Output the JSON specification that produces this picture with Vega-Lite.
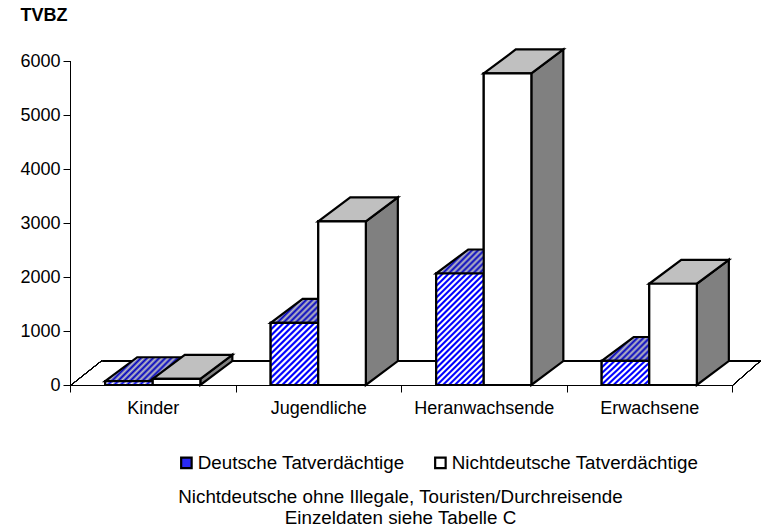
{"$schema":"https://vega.github.io/schema/vega-lite/v6.json","autosize":"none","padding":{"left":70,"top":40,"right":0,"bottom":147},"width":691,"height":345,"background":"white","config":{"font":"Liberation Sans","view":{"stroke":null},"axis":{"grid":false,"domain":false,"tickColor":"black","labelColor":"black","titleColor":"black","labelFont":"Liberation Sans","titleFont":"Liberation Sans","labelFontSize":18,"titleFontSize":18.8,"labelFontWeight":"normal"}},
"data":{"values":[
{"Altersgruppe":"Kinder","Gruppe":"Deutsche Tatverdächtige","TVBZ":70},
{"Altersgruppe":"Kinder","Gruppe":"Nichtdeutsche Tatverdächtige","TVBZ":115},
{"Altersgruppe":"Jugendliche","Gruppe":"Deutsche Tatverdächtige","TVBZ":1150},
{"Altersgruppe":"Jugendliche","Gruppe":"Nichtdeutsche Tatverdächtige","TVBZ":3030},
{"Altersgruppe":"Heranwachsende","Gruppe":"Deutsche Tatverdächtige","TVBZ":2065},
{"Altersgruppe":"Heranwachsende","Gruppe":"Nichtdeutsche Tatverdächtige","TVBZ":5770},
{"Altersgruppe":"Erwachsene","Gruppe":"Deutsche Tatverdächtige","TVBZ":445},
{"Altersgruppe":"Erwachsene","Gruppe":"Nichtdeutsche Tatverdächtige","TVBZ":1875}
]},
"transform":[
{"calculate":"indexof(['Kinder','Jugendliche','Heranwachsende','Erwachsene'],datum.Altersgruppe)","as":"idx"},
{"calculate":"datum.idx+0.5-(datum.Gruppe=='Deutsche Tatverdächtige'?0.2875:0)","as":"x0"},
{"calculate":"datum.x0+0.2875","as":"x1"}
],
"layer":[
{"mark":{"type":"rect","stroke":"black","strokeWidth":2.2},
"encoding":{
"x":{"field":"x0","type":"quantitative","scale":{"domain":[0,4.1752],"nice":false,"zero":false},
"axis":{"values":[0,0.5,1,1.5,2,2.5,3,3.5,4],"tickSize":7,"labelOverlap":false,"labelFlush":false,"labelPadding":7,"labelExpr":"datum.value==0.5?'Kinder':datum.value==1.5?'Jugendliche':datum.value==2.5?'Heranwachsende':datum.value==3.5?'Erwachsene':''","tickOpacity":{"condition":{"test":"datum.value % 1 != 0","value":0},"value":1},"title":["Nichtdeutsche ohne Illegale, Touristen/Durchreisende","Einzeldaten siehe Tabelle C"],"titleFontWeight":"normal","titleX":330,"titleY":117,"titleAlign":"center","titleBaseline":"alphabetic","titleLineHeight":21}},
"x2":{"field":"x1"},
"y":{"field":"TVBZ","type":"quantitative","scale":{"domain":[0,6389],"nice":false},
"axis":{"values":[0,1000,2000,3000,4000,5000,6000],"format":"d","tickSize":7,"labelPadding":3,"title":"TVBZ","titleAngle":0,"titleFontSize":18,"titleFontWeight":"bold","titleX":-50,"titleY":-20,"titleAlign":"left","titleBaseline":"alphabetic"}},
"y2":{"datum":0},
"fill":{"field":"Gruppe","type":"nominal","scale":{"range":["#2a2af5","#ffffff"]},
"legend":{"orient":"none","legendX":107,"legendY":413,"direction":"horizontal","columns":2,"title":null,"symbolType":"square","symbolSize":110,"symbolStrokeColor":"black","symbolStrokeWidth":2.2,"labelFont":"Liberation Sans","labelFontSize":18.8,"labelColor":"black","labelOffset":2,"columnPadding":25,"labelLimit":400}}
}},
{"mark":{"type":"rule","color":"black","strokeWidth":1,"xOffset":0.5,"yOffset":0.5},"encoding":{"x":{"datum":0,"type":"quantitative","scale":{"domain":[0,4.1752],"nice":false,"zero":false}},"x2":{"datum":4},"y":{"datum":0,"type":"quantitative","scale":{"domain":[0,6389],"nice":false}}}},
{"mark":{"type":"rule","color":"black","strokeWidth":1,"xOffset":0.5,"yOffset":0.5},"encoding":{"x":{"datum":0.1934,"type":"quantitative","scale":{"domain":[0,4.1752],"nice":false,"zero":false}},"x2":{"datum":4.1752},"y":{"datum":454,"type":"quantitative","scale":{"domain":[0,6389],"nice":false}}}},
{"mark":{"type":"rule","color":"black","strokeWidth":1,"xOffset":0.5,"yOffset":0.5},"encoding":{"x":{"datum":0,"type":"quantitative","scale":{"domain":[0,4.1752],"nice":false,"zero":false}},"y":{"datum":0,"type":"quantitative","scale":{"domain":[0,6389],"nice":false}},"y2":{"datum":6000}}},
{"mark":{"type":"rule","color":"black","strokeWidth":1,"xOffset":0.5,"yOffset":0.5},"encoding":{"x":{"datum":0,"type":"quantitative","scale":{"domain":[0,4.1752],"nice":false,"zero":false}},"x2":{"datum":0.1934},"y":{"datum":0,"type":"quantitative","scale":{"domain":[0,6389],"nice":false}},"y2":{"datum":454}}},
{"mark":{"type":"rule","color":"black","strokeWidth":1,"xOffset":0.5,"yOffset":0.5},"encoding":{"x":{"datum":4,"type":"quantitative","scale":{"domain":[0,4.1752],"nice":false,"zero":false}},"x2":{"datum":4.1752},"y":{"datum":0,"type":"quantitative","scale":{"domain":[0,6389],"nice":false}},"y2":{"datum":454}}},
{"transform":[{"filter":"datum.Gruppe=='Deutsche Tatverdächtige'"},
{"calculate":"[datum.x0,datum.x0+0.1934,datum.x1,datum.x1+0.1934]","as":"px"},
{"calculate":"[datum.TVBZ,datum.TVBZ+444,datum.TVBZ+444,datum.TVBZ+444]","as":"py"},
{"calculate":"[datum.TVBZ,datum.TVBZ,datum.TVBZ,datum.TVBZ+444]","as":"py2"},
{"flatten":["px","py","py2"]}],
"mark":{"type":"area","orient":"vertical","stroke":"black","strokeWidth":2.2,"strokeJoin":"miter","fill":{"gradient":"linear","x1":0,"y1":0,"x2":1.193,"y2":0.36,"stops":[{"offset":0,"color":"#0000c0"},{"offset":0.0294,"color":"#c0c0c0"},{"offset":0.0588,"color":"#0000c0"},{"offset":0.0882,"color":"#c0c0c0"},{"offset":0.1176,"color":"#0000c0"},{"offset":0.1471,"color":"#c0c0c0"},{"offset":0.1765,"color":"#0000c0"},{"offset":0.2059,"color":"#c0c0c0"},{"offset":0.2353,"color":"#0000c0"},{"offset":0.2647,"color":"#c0c0c0"},{"offset":0.2941,"color":"#0000c0"},{"offset":0.3235,"color":"#c0c0c0"},{"offset":0.3529,"color":"#0000c0"},{"offset":0.3824,"color":"#c0c0c0"},{"offset":0.4118,"color":"#0000c0"},{"offset":0.4412,"color":"#c0c0c0"},{"offset":0.4706,"color":"#0000c0"},{"offset":0.5,"color":"#c0c0c0"},{"offset":0.5294,"color":"#0000c0"},{"offset":0.5588,"color":"#c0c0c0"},{"offset":0.5882,"color":"#0000c0"},{"offset":0.6176,"color":"#c0c0c0"},{"offset":0.6471,"color":"#0000c0"},{"offset":0.6765,"color":"#c0c0c0"},{"offset":0.7059,"color":"#0000c0"},{"offset":0.7353,"color":"#c0c0c0"},{"offset":0.7647,"color":"#0000c0"},{"offset":0.7941,"color":"#c0c0c0"},{"offset":0.8235,"color":"#0000c0"},{"offset":0.8529,"color":"#c0c0c0"},{"offset":0.8824,"color":"#0000c0"},{"offset":0.9118,"color":"#c0c0c0"},{"offset":0.9412,"color":"#0000c0"},{"offset":0.9706,"color":"#c0c0c0"},{"offset":1,"color":"#0000c0"}]}},
"encoding":{"x":{"field":"px","type":"quantitative","scale":{"domain":[0,4.1752],"nice":false,"zero":false}},"y":{"field":"py","type":"quantitative","scale":{"domain":[0,6389],"nice":false},"stack":null},"y2":{"field":"py2"},"detail":{"field":"Altersgruppe"}}},
{"transform":[{"filter":"datum.Gruppe=='Deutsche Tatverdächtige' && datum.Altersgruppe=='Kinder'"}],
"mark":{"type":"rect","stroke":"black","strokeWidth":2.2,"fill":{"gradient":"linear","x1":0,"y1":0,"x2":1.073,"y2":0.086,"stops":[{"offset":0,"color":"#00f"},{"offset":0.0625,"color":"#fff"},{"offset":0.125,"color":"#00f"},{"offset":0.1875,"color":"#fff"},{"offset":0.25,"color":"#00f"},{"offset":0.3125,"color":"#fff"},{"offset":0.375,"color":"#00f"},{"offset":0.4375,"color":"#fff"},{"offset":0.5,"color":"#00f"},{"offset":0.5625,"color":"#fff"},{"offset":0.625,"color":"#00f"},{"offset":0.6875,"color":"#fff"},{"offset":0.75,"color":"#00f"},{"offset":0.8125,"color":"#fff"},{"offset":0.875,"color":"#00f"},{"offset":0.9375,"color":"#fff"},{"offset":1,"color":"#00f"}]}},
"encoding":{"x":{"field":"x0","type":"quantitative","scale":{"domain":[0,4.1752],"nice":false,"zero":false}},"x2":{"field":"x1"},"y":{"field":"TVBZ","type":"quantitative","scale":{"domain":[0,6389],"nice":false}},"y2":{"datum":0}}},
{"transform":[{"filter":"datum.Gruppe=='Deutsche Tatverdächtige' && datum.Altersgruppe=='Jugendliche'"}],
"mark":{"type":"rect","stroke":"black","strokeWidth":2.2,"fill":{"gradient":"linear","x1":0,"y1":0,"x2":0.845,"y2":1.117,"stops":[{"offset":0,"color":"#00f"},{"offset":0.0139,"color":"#00f"},{"offset":0.0278,"color":"#fff"},{"offset":0.0417,"color":"#fff"},{"offset":0.0556,"color":"#00f"},{"offset":0.0695,"color":"#00f"},{"offset":0.0834,"color":"#fff"},{"offset":0.0973,"color":"#fff"},{"offset":0.1111,"color":"#00f"},{"offset":0.125,"color":"#00f"},{"offset":0.1389,"color":"#fff"},{"offset":0.1528,"color":"#fff"},{"offset":0.1667,"color":"#00f"},{"offset":0.1806,"color":"#00f"},{"offset":0.1945,"color":"#fff"},{"offset":0.2084,"color":"#fff"},{"offset":0.2222,"color":"#00f"},{"offset":0.2361,"color":"#00f"},{"offset":0.25,"color":"#fff"},{"offset":0.2639,"color":"#fff"},{"offset":0.2778,"color":"#00f"},{"offset":0.2917,"color":"#00f"},{"offset":0.3056,"color":"#fff"},{"offset":0.3195,"color":"#fff"},{"offset":0.3333,"color":"#00f"},{"offset":0.3472,"color":"#00f"},{"offset":0.3611,"color":"#fff"},{"offset":0.375,"color":"#fff"},{"offset":0.3889,"color":"#00f"},{"offset":0.4028,"color":"#00f"},{"offset":0.4167,"color":"#fff"},{"offset":0.4306,"color":"#fff"},{"offset":0.4444,"color":"#00f"},{"offset":0.4583,"color":"#00f"},{"offset":0.4722,"color":"#fff"},{"offset":0.4861,"color":"#fff"},{"offset":0.5,"color":"#00f"},{"offset":0.5139,"color":"#00f"},{"offset":0.5278,"color":"#fff"},{"offset":0.5417,"color":"#fff"},{"offset":0.5556,"color":"#00f"},{"offset":0.5695,"color":"#00f"},{"offset":0.5834,"color":"#fff"},{"offset":0.5973,"color":"#fff"},{"offset":0.6111,"color":"#00f"},{"offset":0.625,"color":"#00f"},{"offset":0.6389,"color":"#fff"},{"offset":0.6528,"color":"#fff"},{"offset":0.6667,"color":"#00f"},{"offset":0.6806,"color":"#00f"},{"offset":0.6945,"color":"#fff"},{"offset":0.7084,"color":"#fff"},{"offset":0.7222,"color":"#00f"},{"offset":0.7361,"color":"#00f"},{"offset":0.75,"color":"#fff"},{"offset":0.7639,"color":"#fff"},{"offset":0.7778,"color":"#00f"},{"offset":0.7917,"color":"#00f"},{"offset":0.8056,"color":"#fff"},{"offset":0.8195,"color":"#fff"},{"offset":0.8333,"color":"#00f"},{"offset":0.8472,"color":"#00f"},{"offset":0.8611,"color":"#fff"},{"offset":0.875,"color":"#fff"},{"offset":0.8889,"color":"#00f"},{"offset":0.9028,"color":"#00f"},{"offset":0.9167,"color":"#fff"},{"offset":0.9306,"color":"#fff"},{"offset":0.9444,"color":"#00f"},{"offset":0.9583,"color":"#00f"},{"offset":0.9722,"color":"#fff"},{"offset":0.9861,"color":"#fff"},{"offset":1,"color":"#00f"}]}},
"encoding":{"x":{"field":"x0","type":"quantitative","scale":{"domain":[0,4.1752],"nice":false,"zero":false}},"x2":{"field":"x1"},"y":{"field":"TVBZ","type":"quantitative","scale":{"domain":[0,6389],"nice":false}},"y2":{"datum":0}}},
{"transform":[{"filter":"datum.Gruppe=='Deutsche Tatverdächtige' && datum.Altersgruppe=='Heranwachsende'"}],
"mark":{"type":"rect","stroke":"black","strokeWidth":2.2,"fill":{"gradient":"linear","x1":0,"y1":0,"x2":0.51,"y2":1.207,"stops":[{"offset":0,"color":"#00f"},{"offset":0.0093,"color":"#00f"},{"offset":0.0185,"color":"#fff"},{"offset":0.0278,"color":"#fff"},{"offset":0.037,"color":"#00f"},{"offset":0.0463,"color":"#00f"},{"offset":0.0555,"color":"#fff"},{"offset":0.0648,"color":"#fff"},{"offset":0.0741,"color":"#00f"},{"offset":0.0834,"color":"#00f"},{"offset":0.0926,"color":"#fff"},{"offset":0.1019,"color":"#fff"},{"offset":0.1111,"color":"#00f"},{"offset":0.1204,"color":"#00f"},{"offset":0.1296,"color":"#fff"},{"offset":0.1389,"color":"#fff"},{"offset":0.1481,"color":"#00f"},{"offset":0.1574,"color":"#00f"},{"offset":0.1666,"color":"#fff"},{"offset":0.1759,"color":"#fff"},{"offset":0.1852,"color":"#00f"},{"offset":0.1945,"color":"#00f"},{"offset":0.2037,"color":"#fff"},{"offset":0.213,"color":"#fff"},{"offset":0.2222,"color":"#00f"},{"offset":0.2315,"color":"#00f"},{"offset":0.2407,"color":"#fff"},{"offset":0.25,"color":"#fff"},{"offset":0.2593,"color":"#00f"},{"offset":0.2686,"color":"#00f"},{"offset":0.2778,"color":"#fff"},{"offset":0.2871,"color":"#fff"},{"offset":0.2963,"color":"#00f"},{"offset":0.3056,"color":"#00f"},{"offset":0.3148,"color":"#fff"},{"offset":0.3241,"color":"#fff"},{"offset":0.3333,"color":"#00f"},{"offset":0.3426,"color":"#00f"},{"offset":0.3518,"color":"#fff"},{"offset":0.3611,"color":"#fff"},{"offset":0.3704,"color":"#00f"},{"offset":0.3797,"color":"#00f"},{"offset":0.3889,"color":"#fff"},{"offset":0.3982,"color":"#fff"},{"offset":0.4074,"color":"#00f"},{"offset":0.4167,"color":"#00f"},{"offset":0.4259,"color":"#fff"},{"offset":0.4352,"color":"#fff"},{"offset":0.4444,"color":"#00f"},{"offset":0.4537,"color":"#00f"},{"offset":0.4629,"color":"#fff"},{"offset":0.4722,"color":"#fff"},{"offset":0.4815,"color":"#00f"},{"offset":0.4908,"color":"#00f"},{"offset":0.5,"color":"#fff"},{"offset":0.5093,"color":"#fff"},{"offset":0.5185,"color":"#00f"},{"offset":0.5278,"color":"#00f"},{"offset":0.537,"color":"#fff"},{"offset":0.5463,"color":"#fff"},{"offset":0.5556,"color":"#00f"},{"offset":0.5649,"color":"#00f"},{"offset":0.5741,"color":"#fff"},{"offset":0.5834,"color":"#fff"},{"offset":0.5926,"color":"#00f"},{"offset":0.6019,"color":"#00f"},{"offset":0.6111,"color":"#fff"},{"offset":0.6204,"color":"#fff"},{"offset":0.6296,"color":"#00f"},{"offset":0.6389,"color":"#00f"},{"offset":0.6481,"color":"#fff"},{"offset":0.6574,"color":"#fff"},{"offset":0.6667,"color":"#00f"},{"offset":0.676,"color":"#00f"},{"offset":0.6852,"color":"#fff"},{"offset":0.6945,"color":"#fff"},{"offset":0.7037,"color":"#00f"},{"offset":0.713,"color":"#00f"},{"offset":0.7222,"color":"#fff"},{"offset":0.7315,"color":"#fff"},{"offset":0.7407,"color":"#00f"},{"offset":0.75,"color":"#00f"},{"offset":0.7592,"color":"#fff"},{"offset":0.7685,"color":"#fff"},{"offset":0.7778,"color":"#00f"},{"offset":0.7871,"color":"#00f"},{"offset":0.7963,"color":"#fff"},{"offset":0.8056,"color":"#fff"},{"offset":0.8148,"color":"#00f"},{"offset":0.8241,"color":"#00f"},{"offset":0.8333,"color":"#fff"},{"offset":0.8426,"color":"#fff"},{"offset":0.8519,"color":"#00f"},{"offset":0.8612,"color":"#00f"},{"offset":0.8704,"color":"#fff"},{"offset":0.8797,"color":"#fff"},{"offset":0.8889,"color":"#00f"},{"offset":0.8982,"color":"#00f"},{"offset":0.9074,"color":"#fff"},{"offset":0.9167,"color":"#fff"},{"offset":0.9259,"color":"#00f"},{"offset":0.9352,"color":"#00f"},{"offset":0.9444,"color":"#fff"},{"offset":0.9537,"color":"#fff"},{"offset":0.963,"color":"#00f"},{"offset":0.9723,"color":"#00f"},{"offset":0.9815,"color":"#fff"},{"offset":0.9908,"color":"#fff"},{"offset":1,"color":"#00f"}]}},
"encoding":{"x":{"field":"x0","type":"quantitative","scale":{"domain":[0,4.1752],"nice":false,"zero":false}},"x2":{"field":"x1"},"y":{"field":"TVBZ","type":"quantitative","scale":{"domain":[0,6389],"nice":false}},"y2":{"datum":0}}},
{"transform":[{"filter":"datum.Gruppe=='Deutsche Tatverdächtige' && datum.Altersgruppe=='Erwachsene'"}],
"mark":{"type":"rect","stroke":"black","strokeWidth":2.2,"fill":{"gradient":"linear","x1":0,"y1":0,"x2":1.194,"y2":0.638,"stops":[{"offset":0,"color":"#00f"},{"offset":0.0208,"color":"#00f"},{"offset":0.0417,"color":"#fff"},{"offset":0.0625,"color":"#fff"},{"offset":0.0833,"color":"#00f"},{"offset":0.1041,"color":"#00f"},{"offset":0.125,"color":"#fff"},{"offset":0.1458,"color":"#fff"},{"offset":0.1667,"color":"#00f"},{"offset":0.1875,"color":"#00f"},{"offset":0.2084,"color":"#fff"},{"offset":0.2292,"color":"#fff"},{"offset":0.25,"color":"#00f"},{"offset":0.2708,"color":"#00f"},{"offset":0.2917,"color":"#fff"},{"offset":0.3125,"color":"#fff"},{"offset":0.3333,"color":"#00f"},{"offset":0.3541,"color":"#00f"},{"offset":0.375,"color":"#fff"},{"offset":0.3958,"color":"#fff"},{"offset":0.4167,"color":"#00f"},{"offset":0.4375,"color":"#00f"},{"offset":0.4584,"color":"#fff"},{"offset":0.4792,"color":"#fff"},{"offset":0.5,"color":"#00f"},{"offset":0.5208,"color":"#00f"},{"offset":0.5417,"color":"#fff"},{"offset":0.5625,"color":"#fff"},{"offset":0.5833,"color":"#00f"},{"offset":0.6041,"color":"#00f"},{"offset":0.625,"color":"#fff"},{"offset":0.6458,"color":"#fff"},{"offset":0.6667,"color":"#00f"},{"offset":0.6875,"color":"#00f"},{"offset":0.7084,"color":"#fff"},{"offset":0.7292,"color":"#fff"},{"offset":0.75,"color":"#00f"},{"offset":0.7708,"color":"#00f"},{"offset":0.7917,"color":"#fff"},{"offset":0.8125,"color":"#fff"},{"offset":0.8333,"color":"#00f"},{"offset":0.8541,"color":"#00f"},{"offset":0.875,"color":"#fff"},{"offset":0.8958,"color":"#fff"},{"offset":0.9167,"color":"#00f"},{"offset":0.9375,"color":"#00f"},{"offset":0.9584,"color":"#fff"},{"offset":0.9792,"color":"#fff"},{"offset":1,"color":"#00f"}]}},
"encoding":{"x":{"field":"x0","type":"quantitative","scale":{"domain":[0,4.1752],"nice":false,"zero":false}},"x2":{"field":"x1"},"y":{"field":"TVBZ","type":"quantitative","scale":{"domain":[0,6389],"nice":false}},"y2":{"datum":0}}},
{"transform":[{"filter":"datum.Gruppe!='Deutsche Tatverdächtige'"},
{"calculate":"[datum.x1,datum.x1+0.1934]","as":"px"},
{"calculate":"[datum.TVBZ,datum.TVBZ+444]","as":"py"},
{"calculate":"[0,444]","as":"py2"},
{"flatten":["px","py","py2"]}],
"mark":{"type":"area","orient":"vertical","fill":"#808080","stroke":"black","strokeWidth":2.2},
"encoding":{"x":{"field":"px","type":"quantitative","scale":{"domain":[0,4.1752],"nice":false,"zero":false}},"y":{"field":"py","type":"quantitative","scale":{"domain":[0,6389],"nice":false},"stack":null},"y2":{"field":"py2"},"detail":{"field":"Altersgruppe"}}},
{"transform":[{"filter":"datum.Gruppe!='Deutsche Tatverdächtige'"},
{"calculate":"[datum.x0,datum.x0+0.1934,datum.x1,datum.x1+0.1934]","as":"px"},
{"calculate":"[datum.TVBZ,datum.TVBZ+444,datum.TVBZ+444,datum.TVBZ+444]","as":"py"},
{"calculate":"[datum.TVBZ,datum.TVBZ,datum.TVBZ,datum.TVBZ+444]","as":"py2"},
{"flatten":["px","py","py2"]}],
"mark":{"type":"area","orient":"vertical","fill":"#c0c0c0","stroke":"black","strokeWidth":2.2},
"encoding":{"x":{"field":"px","type":"quantitative","scale":{"domain":[0,4.1752],"nice":false,"zero":false}},"y":{"field":"py","type":"quantitative","scale":{"domain":[0,6389],"nice":false},"stack":null},"y2":{"field":"py2"},"detail":{"field":"Altersgruppe"}}},
{"transform":[{"filter":"datum.Gruppe!='Deutsche Tatverdächtige'"}],
"mark":{"type":"rect","fill":"#ffffff","stroke":"black","strokeWidth":2.2},
"encoding":{"x":{"field":"x0","type":"quantitative","scale":{"domain":[0,4.1752],"nice":false,"zero":false}},"x2":{"field":"x1"},"y":{"field":"TVBZ","type":"quantitative","scale":{"domain":[0,6389],"nice":false}},"y2":{"datum":0}}}
]}
